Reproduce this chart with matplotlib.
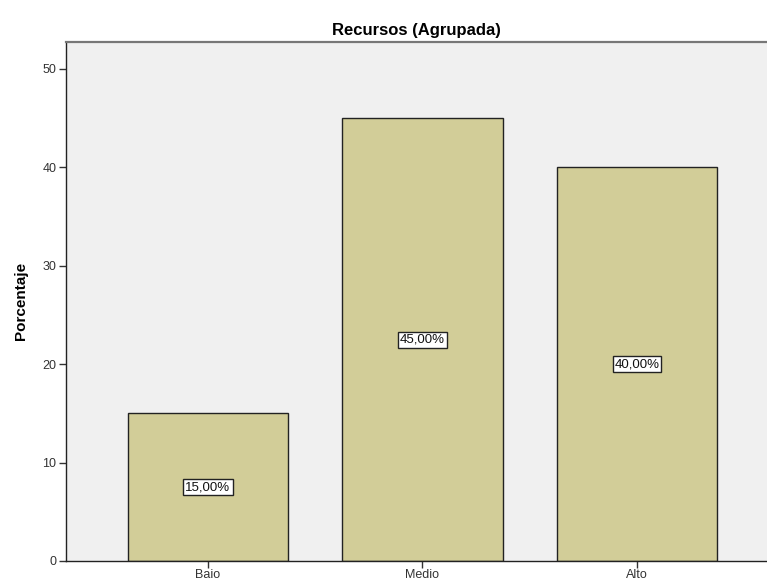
import matplotlib
matplotlib.use("Agg")
import matplotlib.pyplot as plt

plt.rcParams['font.family'] = ['Liberation Sans', 'DejaVu Sans']

categories = ['Baio', 'Medio', 'Alto']
percentages = [15.0, 45.0, 40.0]
yticks = [0, 10, 20, 30, 40, 50]

BAR_CLR = '#d2cd98'
BG_CLR = '#f0f0f0'

fig = plt.figure(figsize=(7.67, 5.84), dpi=100)
ax = fig.add_axes([0.086, 0.0394, 0.914, 0.889])
ax.set_facecolor(BG_CLR)

x = range(len(categories))
bars = ax.bar(x, percentages, width=0.75, color=BAR_CLR,
              edgecolor='#222222', linewidth=1.0, zorder=2)

for rect, val in zip(bars, percentages):
    label = f'{val:.2f}'.replace('.', ',') + '%'
    ax.text(rect.get_x() + rect.get_width() / 2, val / 2, label,
            ha='center', va='center', fontsize=9.5, color='#111111', zorder=3,
            bbox=dict(boxstyle='square,pad=0.15', facecolor='white',
                      edgecolor='#222222', linewidth=1.0))

ax.set_xlim(-0.662, 2.606)
ax.set_ylim(0, 52.75)
ax.set_xticks(list(x))
ax.set_xticklabels(categories)
ax.set_yticks(yticks)
ax.tick_params(axis='both', labelsize=9, colors='#333333', length=5, width=1)
ax.tick_params(axis='x', pad=1)
ax.tick_params(axis='y', pad=2)

for side in ['left', 'bottom']:
    ax.spines[side].set_color('#222222')
    ax.spines[side].set_linewidth(1.0)
ax.spines['top'].set_color('#777777')
ax.spines['top'].set_linewidth(1.6)
ax.spines['right'].set_visible(False)

ax.set_ylabel('Porcentaje', fontsize=11, fontweight='bold', labelpad=10)
ax.set_title('Recursos (Agrupada)', fontsize=12, fontweight='bold', pad=5)

fig.savefig('out.png', dpi=100, facecolor='white')
